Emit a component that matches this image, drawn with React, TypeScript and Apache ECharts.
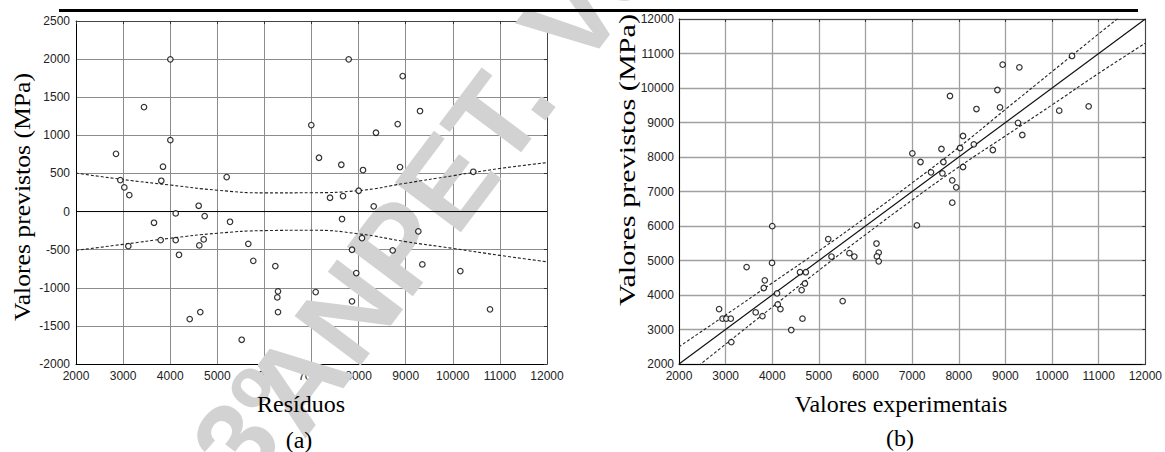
import React, { useEffect, useRef } from "react";
import * as echarts from "echarts";

// ---------- Panel (a): residuals ----------
const resX = [2849, 2941, 3026, 3132, 3444, 4003, 4003, 3847, 3811, 4117, 4605, 4732, 5199, 5270, 3656,
  3111, 3798, 4117, 4618, 4711, 4187, 5658, 5764, 6232, 6289, 6274, 6289, 4414, 4639, 5518,
  7790, 8936, 9304, 6996, 8830, 8369, 7159, 7633, 8094, 8879, 10435, 8002, 7393, 7669, 8321, 7648,
  8072, 9268, 7860, 8724, 9353, 7951, 10160, 7089, 7860, 10790];
const resY = [758, 413, 317, 216, 1371, 1997, 938, 588, 404, -24, 76, -59, 453, -134, -147,
  -453, -374, -374, -444, -365, -567, -423, -646, -715, -1047, -1126, -1319, -1411, -1319, -1682,
  1997, 1778, 1319, 1135, 1148, 1034, 706, 614, 545, 584, 522, 273, 181, 203, 68, -98,
  -348, -260, -501, -509, -693, -807, -781, -1056, -1178, -1283];

// ---------- Panel (b): predicted vs experimental ----------
const expX = [10428, 8941, 9299, 8828, 7811, 8379, 8884, 10154, 10785, 9270, 9362, 8091, 7628, 8028, 8323, 8730,
  7004, 7179, 7670, 7404, 7649, 8091, 7860, 7945, 7860, 7102,
  4000, 5200, 3995, 3450, 4595, 4720, 5270, 5655, 5760, 3840, 3818, 4103, 4700, 4630, 4118, 4175, 3645, 3790,
  2860, 2933, 3015, 3110, 3122, 4407, 4648, 5510, 6235, 6283, 6244, 6283];
const predY = [10928, 10675, 10600, 9942, 9768, 9391, 9440, 9342, 9469, 8986, 8638, 8609, 8232, 8261, 8368, 8203,
  8107, 7855, 7855, 7556, 7527, 7710, 7324, 7122, 6675, 6020,
  5995, 5620, 4930, 4810, 4660, 4660, 5115, 5212, 5115, 4426, 4203, 4048, 4333, 4144, 3728, 3591, 3495, 3388,
  3591, 3315, 3315, 3315, 2635, 2985, 3315, 3824, 5492, 5230, 5118, 4977];

// ---------- confidence bands ----------
const bandX = [2000, 3000, 4000, 5000, 6000, 7000, 8000, 9000, 10000, 11000, 12000];
const bandUpperA = [505, 420, 348, 280, 245, 247, 275, 372, 470, 565, 642];
const bandLowerA = [-510, -430, -350, -285, -250, -245, -292, -395, -483, -575, -659];
const bandUpperB = [2500, 3420, 4350, 5280, 6245, 7250, 8280, 9380, 10475, 11570, 12650];
const bandLowerB = [1500, 2575, 3650, 4715, 5750, 6752, 7710, 8610, 9510, 10425, 11300];
const idealX = [2000, 12000];
const idealY = [2000, 12000];
const zeroX = [2000, 12000];
const zeroY = [0, 0];

const labelStyle = {
  fontSize: 12, color: "#222", fontFamily: "Liberation Sans, Arial, sans-serif",
  formatter: (v: number) => String(v),
};
const gridLineA = { lineStyle: { color: "#8c8c8c", width: 1 } };
const gridLineB = { lineStyle: { color: "#a0a0a0", width: 1.3 } };

function pairs(xs: number[], ys: number[]) {
  return xs.map((x, i) => [x, ys[i]]);
}

export default function App() {
  const ref = useRef<HTMLDivElement>(null);
  useEffect(() => {
    const chart = echarts.init(ref.current!, null, { renderer: "svg" });
    const frameAxis = (gridIndex: number, position: string, min: number, max: number, interval: number) => ({
      type: "value", gridIndex, position, min, max, interval,
      axisLine: { show: true, onZero: false, lineStyle: { color: "#444", width: 1 } },
      axisTick: { show: true, inside: true, length: 3, lineStyle: { color: "#333" } },
      axisLabel: { show: false }, splitLine: { show: false },
    });
    const scatterStyle = { color: "#fff", borderColor: "#000", borderWidth: 1.2 };
    const dashed = (color: string) => ({ type: [3, 2] as any, color, width: 1.1 });
    const deg = Math.PI / 180;
    const wm = "#d2d2d2";
    const serif = '"Liberation Serif", "Times New Roman", serif';

    chart.setOption({
      animation: false,
      backgroundColor: "#fff",
      grid: [
        { left: 76, top: 21, width: 471, height: 343 },
        { left: 679, top: 19, width: 475, height: 345 },
      ],
      xAxis: [
        {
          type: "value", gridIndex: 0, min: 2000, max: 12000, interval: 1000,
          axisLine: { onZero: false, lineStyle: { color: "#000", width: 1 } },
          axisTick: { show: false },
          axisLabel: { ...labelStyle, margin: 6, showMinLabel: true, showMaxLabel: true },
          splitLine: { show: true, ...gridLineA },
        },
        frameAxis(0, "top", 2000, 12000, 1000),
        {
          type: "value", gridIndex: 1, min: 2000, max: 12000, interval: 1000,
          axisLine: { onZero: false, lineStyle: { color: "#000", width: 1 } },
          axisTick: { show: false },
          axisLabel: { ...labelStyle, margin: 6, showMinLabel: true, showMaxLabel: true },
          splitLine: { show: true, ...gridLineB },
        },
        frameAxis(1, "top", 2000, 12000, 1000),
      ],
      yAxis: [
        {
          type: "value", gridIndex: 0, min: -2000, max: 2500, interval: 500,
          axisLine: { onZero: false, lineStyle: { color: "#000", width: 1 } },
          axisTick: { show: false },
          axisLabel: { ...labelStyle, margin: 6, showMinLabel: true, showMaxLabel: true },
          splitLine: { show: true, ...gridLineA },
        },
        frameAxis(0, "right", -2000, 2500, 500),
        {
          type: "value", gridIndex: 1, min: 2000, max: 12000, interval: 1000,
          axisLine: { onZero: false, lineStyle: { color: "#000", width: 1 } },
          axisTick: { show: false },
          axisLabel: { ...labelStyle, margin: 5, showMinLabel: true, showMaxLabel: true },
          splitLine: { show: true, ...gridLineB },
        },
        frameAxis(1, "right", 2000, 12000, 1000),
      ],
      series: [
        {
          type: "line", xAxisIndex: 0, yAxisIndex: 0, data: pairs(zeroX, zeroY), symbol: "none",
          lineStyle: { color: "#000", width: 1 }, silent: true, z: 3,
        },
        {
          type: "line", xAxisIndex: 0, yAxisIndex: 0, data: pairs(bandX, bandUpperA), symbol: "none", smooth: true,
          lineStyle: dashed("#222"), silent: true, z: 3,
        },
        {
          type: "line", xAxisIndex: 0, yAxisIndex: 0, data: pairs(bandX, bandLowerA), symbol: "none", smooth: true,
          lineStyle: dashed("#222"), silent: true, z: 3,
        },
        {
          type: "scatter", xAxisIndex: 0, yAxisIndex: 0, data: pairs(resX, resY), symbol: "circle", symbolSize: 5.5,
          itemStyle: scatterStyle, silent: true, z: 5,
        },
        {
          type: "line", xAxisIndex: 2, yAxisIndex: 2, data: pairs(idealX, idealY), symbol: "none",
          lineStyle: { color: "#111", width: 1.2 }, silent: true, z: 3,
        },
        {
          type: "line", xAxisIndex: 2, yAxisIndex: 2, data: pairs(bandX, bandUpperB), symbol: "none", smooth: true,
          lineStyle: dashed("#2e2020"), silent: true, z: 3, clip: true,
        },
        {
          type: "line", xAxisIndex: 2, yAxisIndex: 2, data: pairs(bandX, bandLowerB), symbol: "none", smooth: true,
          lineStyle: dashed("#2e2020"), silent: true, z: 3, clip: true,
        },
        {
          type: "scatter", xAxisIndex: 2, yAxisIndex: 2, data: pairs(expX, predY), symbol: "circle", symbolSize: 5.5,
          itemStyle: scatterStyle, silent: true, z: 5,
        },
      ],
      graphic: [
        // watermark
        {
          type: "text", x: 318, y: 452, rotation: 53 * deg, z: 1, silent: true,
          style: { text: "ANPET. Versão", font: 'bold 120px "Liberation Sans"', fill: wm, align: "left", verticalAlign: "bottom" },
        },
        {
          type: "text", x: 262, y: 500, rotation: 53 * deg, z: 1, silent: true,
          style: { text: "3º", font: 'bold 112px "Liberation Sans"', fill: wm, align: "left", verticalAlign: "bottom" },
        },
        // top rule
        { type: "rect", shape: { x: 59, y: 9, width: 1079, height: 3 }, style: { fill: "#000" }, z: 10 },
        // titles (a)
        {
          type: "text", x: 22, y: 197, rotation: 90 * deg, scaleX: 1.07, z: 10,
          style: { text: "Valores previstos (MPa)", font: "24px " + serif, fill: "#000", align: "center", verticalAlign: "middle" },
        },
        {
          type: "text", x: 301, y: 404, z: 10,
          style: { text: "Resíduos", font: "24px " + serif, fill: "#000", align: "center", verticalAlign: "middle" },
        },
        {
          type: "text", x: 299, y: 440, z: 10,
          style: { text: "(a)", font: "24px " + serif, fill: "#000", align: "center", verticalAlign: "middle" },
        },
        // titles (b)
        {
          type: "text", x: 627, y: 160, rotation: 90 * deg, scaleX: 1.26, z: 10,
          style: { text: "Valores previstos (MPa)", font: "24px " + serif, fill: "#000", align: "center", verticalAlign: "middle" },
        },
        {
          type: "text", x: 901, y: 404, z: 10,
          style: { text: "Valores experimentais", font: "24px " + serif, fill: "#000", align: "center", verticalAlign: "middle" },
        },
        {
          type: "text", x: 900, y: 438, z: 10,
          style: { text: "(b)", font: "24px " + serif, fill: "#000", align: "center", verticalAlign: "middle" },
        },
      ],
    });
    return () => chart.dispose();
  }, []);
  return (
    <div
      ref={ref}
      style={{ position: "fixed", left: 0, top: 0, width: 1165, height: 452, background: "#fff" }}
    />
  );
}
